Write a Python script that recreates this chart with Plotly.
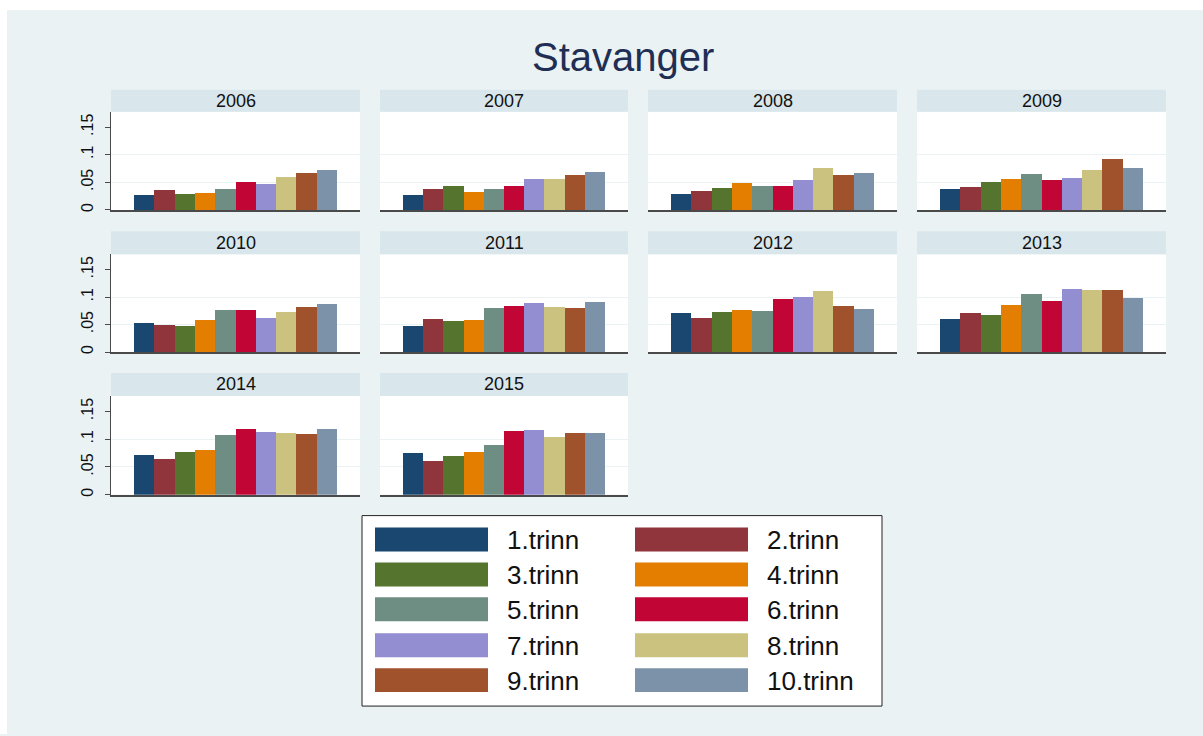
import plotly.graph_objects as go

# ---------------- data ----------------
title_text = "Stavanger"
years = ["2006", "2007", "2008", "2009", "2010", "2011", "2012", "2013", "2014", "2015"]
grades = ["1.trinn", "2.trinn", "3.trinn", "4.trinn", "5.trinn",
          "6.trinn", "7.trinn", "8.trinn", "9.trinn", "10.trinn"]
grade_colors = ["#1A476F", "#90353B", "#55752F", "#E37E00", "#6E8E84",
                "#C10534", "#938DD2", "#CAC27E", "#A0522D", "#7B92A8"]

v2006 = [0.028, 0.036, 0.030, 0.0315, 0.038, 0.052, 0.047, 0.0595, 0.068, 0.0726]
v2007 = [0.028, 0.038, 0.044, 0.033, 0.0387, 0.044, 0.057, 0.056, 0.0637, 0.070]
v2008 = [0.030, 0.0357, 0.041, 0.0488, 0.0446, 0.0435, 0.054, 0.076, 0.0637, 0.068]
v2009 = [0.0387, 0.042, 0.0506, 0.057, 0.066, 0.054, 0.058, 0.0726, 0.092, 0.0768]
v2010 = [0.052, 0.0485, 0.0467, 0.0587, 0.0767, 0.0767, 0.061, 0.072, 0.082, 0.0862]
v2011 = [0.0467, 0.060, 0.0557, 0.057, 0.0797, 0.084, 0.0892, 0.081, 0.079, 0.0905]
v2012 = [0.0713, 0.061, 0.073, 0.0755, 0.0737, 0.0964, 0.0988, 0.1114, 0.084, 0.077]
v2013 = [0.060, 0.0713, 0.0665, 0.085, 0.1048, 0.0916, 0.1138, 0.1132, 0.112, 0.097]
v2014 = [0.0713, 0.0647, 0.0767, 0.080, 0.107, 0.118, 0.1138, 0.111, 0.109, 0.118]
v2015 = [0.0755, 0.060, 0.0695, 0.0773, 0.0904, 0.115, 0.1162, 0.1036, 0.1114, 0.1114]

ytick_vals = [0, 0.05, 0.1, 0.15]
ytick_text = ["0", ".05", ".1", ".15"]
grid_vals = [0.05, 0.1]

series = [v2006, v2007, v2008, v2009, v2010, v2011, v2012, v2013, v2014, v2015]

# ---------------- layout geometry (pixels) ----------------
W, H = 1203, 736
FONT = "Liberation Sans, Arial, sans-serif"
BG = "#EAF2F3"
STRIP = "#D9E6EB"
AXC = "#4A4A4A"

col_x = [(111, 360), (380, 628), (648, 897), (917, 1166)]
row_plot = [(112, 210.5), (255, 353), (397, 496)]
row_strip = [(90, 112), (232, 255), (374, 397)]


def px(x):
    return x / W


def py(y):
    return 1 - y / H


fig = go.Figure()
shapes = []
annotations = []
layout_axes = {}

for i, (yr, vals) in enumerate(zip(years, series)):
    r, c = divmod(i, 4)
    idx = i + 1
    xname = "x" if idx == 1 else f"x{idx}"
    yname = "y" if idx == 1 else f"y{idx}"
    fig.add_trace(go.Bar(
        x=list(range(len(grades))), y=vals,
        marker=dict(color=grade_colors, line=dict(width=0)),
        width=1.0, xaxis=xname, yaxis=yname, showlegend=False,
        hovertext=grades, name=yr,
    ))
    x0, x1 = col_x[c]
    y0, y1 = row_plot[r]
    xa = dict(domain=[px(x0), px(x1)], range=[-1.63, 10.63], anchor=yname,
              showline=True, linecolor=AXC, linewidth=1.5, ticks="",
              showticklabels=False, showgrid=False, zeroline=False, fixedrange=True)
    ya = dict(domain=[py(y1), py(y0)], range=[0, 0.178], anchor=xname,
              showgrid=False, zeroline=False, fixedrange=True,
              tickvals=ytick_vals, ticktext=ytick_text,
              minor=dict(tickvals=grid_vals, showgrid=True, gridcolor=BG,
                         gridwidth=1, ticks=""))
    if c == 0:
        ya.update(showline=True, linecolor=AXC, linewidth=1, ticks="outside",
                  ticklen=5, tickcolor=AXC, tickwidth=1, tickangle=-90,
                  ticklabelstandoff=6,
                  showticklabels=True, tickfont=dict(family=FONT, size=16, color="#111111"))
    else:
        ya.update(showline=False, ticks="", showticklabels=False)
    layout_axes["xaxis" if idx == 1 else f"xaxis{idx}"] = xa
    layout_axes["yaxis" if idx == 1 else f"yaxis{idx}"] = ya

    # strip
    s0, s1 = row_strip[r]
    shapes.append(dict(type="rect", xref="paper", yref="paper",
                       x0=px(x0), x1=px(x1), y0=py(s1), y1=py(s0),
                       fillcolor=STRIP, line=dict(width=0), layer="above"))
    annotations.append(dict(text=yr, xref="paper", yref="paper",
                            x=px((x0 + x1) / 2), y=py((s0 + s1) / 2),
                            xanchor="center", yanchor="middle", showarrow=False,
                            font=dict(family=FONT, size=18, color="#111111")))

# white outer border (reference has a white margin on top/left)
shapes.append(dict(type="rect", xref="paper", yref="paper", x0=0, x1=1,
                   y0=py(10), y1=1, fillcolor="white", line=dict(width=0), layer="above"))
shapes.append(dict(type="rect", xref="paper", yref="paper", x0=0, x1=px(7),
                   y0=0, y1=1, fillcolor="white", line=dict(width=0), layer="above"))

# title
annotations.append(dict(text=title_text, xref="paper", yref="paper",
                        x=px(623), y=py(57), xanchor="center", yanchor="middle",
                        showarrow=False, font=dict(family=FONT, size=40, color="#1F2E54")))

# legend box (drawn manually to match the large swatches)
shapes.append(dict(type="rect", xref="paper", yref="paper",
                   x0=px(362), x1=px(882), y0=py(708), y1=py(517),
                   fillcolor="white", line=dict(color="#222222", width=1), layer="above"))
leg_sw_x = [375, 635]
leg_txt_x = [505, 765]
leg_row_y = [529, 564, 599, 635, 670]
for k, (g, col) in enumerate(zip(grades, grade_colors)):
    rr, cc = divmod(k, 2)
    yt = leg_row_y[rr]
    shapes.append(dict(type="rect", xref="paper", yref="paper",
                       x0=px(leg_sw_x[cc]), x1=px(leg_sw_x[cc] + 113),
                       y0=py(yt + 24), y1=py(yt), fillcolor=col,
                       line=dict(width=0), layer="above"))
    annotations.append(dict(text=g, xref="paper", yref="paper",
                            x=px(leg_txt_x[cc]), y=py(yt + 12.5),
                            xanchor="left", yanchor="middle", showarrow=False,
                            font=dict(family=FONT, size=26, color="#111111")))

fig.update_layout(
    width=W, height=H, autosize=False,
    margin=dict(l=0, r=0, t=0, b=0),
    paper_bgcolor=BG, plot_bgcolor="white",
    bargap=0, showlegend=False,
    shapes=shapes, annotations=annotations,
    **layout_axes,
)

fig.write_html("out.html",
               config={"displayModeBar": False},
               post_script="document.body.style.margin='0';document.body.style.padding='0';document.body.style.overflow='hidden';")
